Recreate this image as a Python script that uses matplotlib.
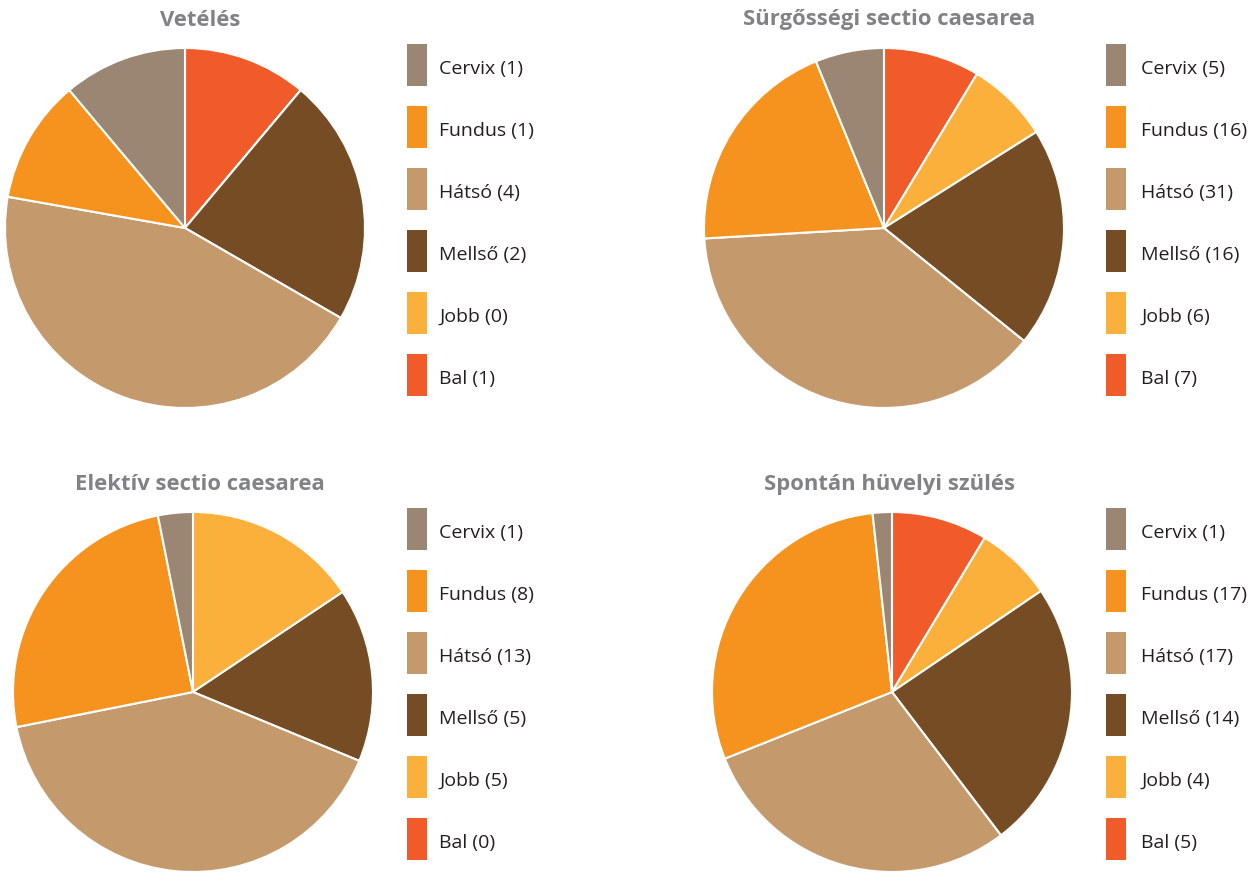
import matplotlib
matplotlib.use('Agg')
import matplotlib.pyplot as plt
from matplotlib.patches import Rectangle

plt.rcParams['font.family'] = ['Open Sans', 'DejaVu Sans']

W, H = 1258, 872

# categories in legend order (top to bottom)
categories = ['Cervix', 'Fundus', 'Hátsó', 'Mellső', 'Jobb', 'Bal']
colors = ['#9a8673', '#f6921e', '#c49a6c', '#754c24', '#fbb03b', '#f15a29']

titles = ['Vetélés', 'Sürgősségi sectio caesarea',
          'Elektív sectio caesarea', 'Spontán hüvelyi szülés']
vetetes = [1, 1, 4, 2, 0, 1]
surgossegi = [5, 16, 31, 16, 6, 7]
elektiv = [1, 8, 13, 5, 5, 0]
spontan = [1, 17, 17, 14, 4, 5]
counts = [vetetes, surgossegi, elektiv, spontan]

# pie centre (px), title centre x, legend box x, legend text x
panels = [
    ((185, 228), 200, 407, 439),
    ((884, 228), 889, 1106, 1141),
    ((193, 692), 200, 407, 439),
    ((892, 692), 889, 1106, 1141),
]
R = 180

fig = plt.figure(figsize=(W / 100, H / 100), dpi=100)
over = fig.add_axes([0, 0, 1, 1])
over.set_xlim(0, W)
over.set_ylim(H, 0)
over.axis('off')

for (center, tx, lx, ltx), title, vals in zip(panels, titles, counts):
    cx, cy = center
    ax = fig.add_axes([(cx - R) / W, 1 - (cy + R) / H, 2 * R / W, 2 * R / H])
    # pie goes clockwise from 12 o'clock: Bal, Jobb, Mellső, Hátsó, Fundus, Cervix
    ax.pie(vals[::-1], colors=colors[::-1], startangle=90, counterclock=False,
           radius=1, wedgeprops=dict(edgecolor='white', linewidth=1.5))
    ax.set_xlim(-1, 1)
    ax.set_ylim(-1, 1)
    ax.set_aspect('equal')
    ax.axis('off')

    over.text(tx, cy - 208, title, ha='center', va='center', fontsize=15.8,
              fontweight='bold', color='#808285')

    for i, (cat, col, v) in enumerate(zip(categories, colors, vals)):
        yc = cy - 163 + i * 62
        over.add_patch(Rectangle((lx, yc - 21), 20, 42, color=col, lw=0))
        over.text(ltx, yc + 4, f'{cat} ({v})', ha='left', va='center',
                  fontsize=14, color='#231f20')

fig.savefig('out.png', dpi=100)
